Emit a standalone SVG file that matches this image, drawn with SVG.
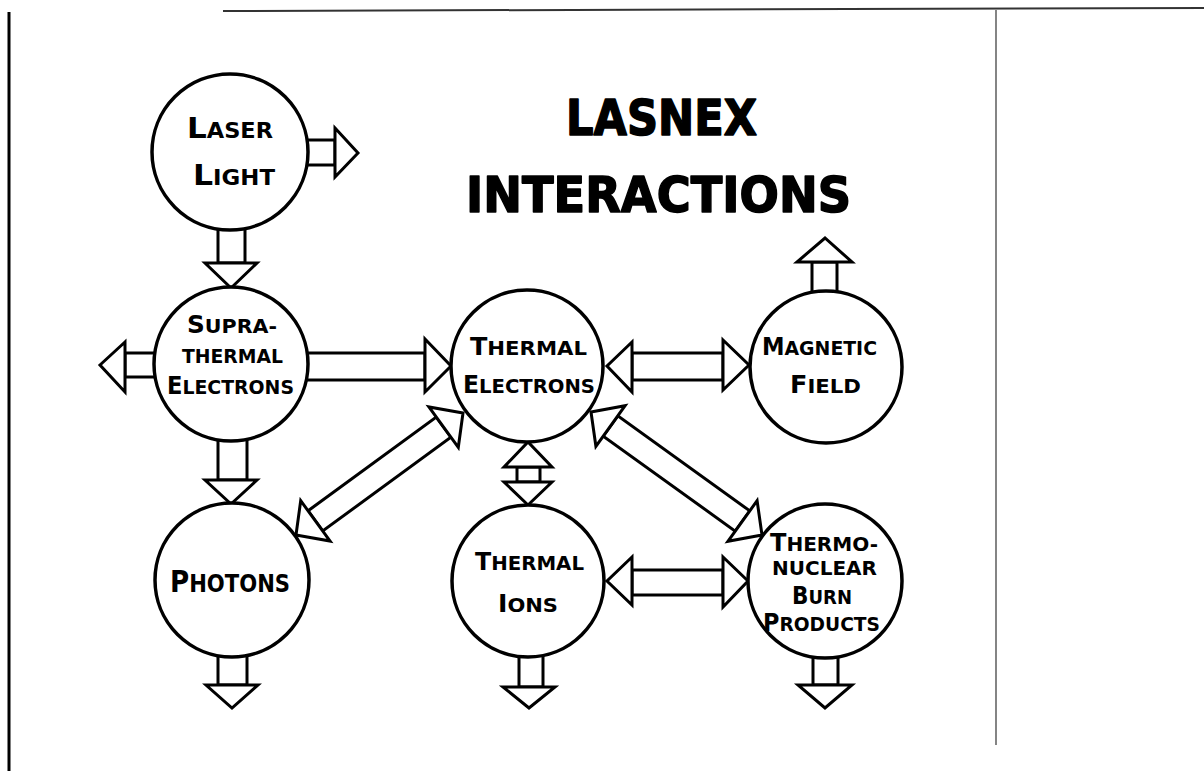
<svg xmlns="http://www.w3.org/2000/svg" width="1204" height="771" viewBox="0 0 1204 771">
<defs>
<style>
.bg{fill:#fff}
.node circle{fill:#fff;stroke:#000;stroke-width:3.5}
.sh{fill:#fff;stroke:#000;stroke-width:3;stroke-linejoin:miter}
.hd{fill:#fff;stroke:#000;stroke-width:3;stroke-linejoin:miter}
.lbl{font-family:"DejaVu Sans","Liberation Sans",sans-serif;font-weight:bold;fill:#000}
.s{font-size:20px}
.b{font-size:24px}
.title{font-family:"DejaVu Sans","Liberation Sans",sans-serif;font-weight:bold;font-size:50px;fill:#000;stroke:#000;stroke-width:1.6;stroke-linejoin:round}
</style>
</defs>
<rect class="bg" x="0" y="0" width="1204" height="771"/>
<g id="frame">
<line x1="9" y1="12" x2="9" y2="771" stroke="#000" stroke-width="3"/>
<line x1="223" y1="11" x2="1204" y2="8" stroke="#333" stroke-width="2"/>
<line x1="996" y1="10" x2="996" y2="745" stroke="#333" stroke-width="1.2"/>
</g>
<g id="title">
<text class="title" x="566" y="135" textLength="191" lengthAdjust="spacingAndGlyphs">LASNEX</text>
<text class="title" x="466" y="212" textLength="385" lengthAdjust="spacingAndGlyphs">INTERACTIONS</text>
</g>
<g id="connectors">
<rect class="sh" x="300" y="140" width="35" height="25"/>
<polygon class="hd" points="335,128 358,153 335,177"/>
<rect class="sh" x="218" y="222" width="27" height="41"/>
<polygon class="hd" points="205,263 257,263 231,288"/>
<rect class="sh" x="125" y="353" width="37" height="24"/>
<polygon class="hd" points="125,342 100,365 125,392"/>
<rect class="sh" x="300" y="353" width="125" height="27"/>
<polygon class="hd" points="425,339 451,366 425,392"/>
<rect class="sh" x="218" y="432" width="29" height="48"/>
<polygon class="hd" points="205,480 257,480 231,504"/>
<rect class="sh" x="218" y="650" width="29" height="35"/>
<polygon class="hd" points="206,685 258,685 232,708"/>
<rect class="sh" x="632" y="353" width="91" height="27"/>
<polygon class="hd" points="632,342 607,366 632,392"/>
<polygon class="hd" points="723,340 749,365 723,390"/>
<rect class="sh" x="517" y="467" width="23" height="15"/>
<polygon class="hd" points="504,467 528,442 552,467"/>
<polygon class="hd" points="504,482 552,482 528,505"/>
<rect class="sh" x="519" y="650" width="24" height="37"/>
<polygon class="hd" points="503,687 555,687 529,708"/>
<rect class="sh" x="632" y="570" width="91" height="25"/>
<polygon class="hd" points="632,557 607,581 632,605"/>
<polygon class="hd" points="723,557 748,581 723,607"/>
<rect class="sh" x="813" y="650" width="25" height="35"/>
<polygon class="hd" points="798,685 852,685 825,708"/>
<rect class="sh" x="812" y="262" width="25" height="36"/>
<polygon class="hd" points="797,262 852,262 825,238"/>
<polygon class="sh" points="308.1,510.8 436.3,417.0 450.9,437.2 322.7,531.0"/>
<polygon class="hd" points="330.1,541.1 300.7,500.7 296,535"/>
<polygon class="hd" points="458.3,447.3 428.9,406.9 463,413"/>
<polygon class="sh" points="603.2,436.1 617.8,415.9 749.8,510.9 735.2,531.1"/>
<polygon class="hd" points="595.9,446.3 625.1,405.7 591,412"/>
<polygon class="hd" points="727.9,541.3 757.1,500.7 762,535"/>
</g>
<g id="laser-light" class="node">
<circle cx="230" cy="152" r="78"/>
<text class="lbl" x="187" y="138" textLength="86" lengthAdjust="spacingAndGlyphs"><tspan style="font-size:29px">L</tspan><tspan style="font-size:21px">ASER</tspan></text>
<text class="lbl" x="193" y="185" textLength="82" lengthAdjust="spacingAndGlyphs"><tspan style="font-size:29px">L</tspan><tspan style="font-size:21px">IGHT</tspan></text>
</g>
<g id="suprathermal-electrons" class="node">
<circle cx="231" cy="364" r="77"/>
<text class="lbl" x="187" y="333" textLength="90" lengthAdjust="spacingAndGlyphs"><tspan class="b">S</tspan><tspan class="s">UPRA-</tspan></text>
<text class="lbl s" x="182" y="363" textLength="101" lengthAdjust="spacingAndGlyphs">THERMAL</text>
<text class="lbl" x="167" y="394" textLength="127" lengthAdjust="spacingAndGlyphs"><tspan class="b">E</tspan><tspan class="s">LECTRONS</tspan></text>
</g>
<g id="thermal-electrons" class="node">
<circle cx="527" cy="366" r="76"/>
<text class="lbl" x="470" y="355" textLength="117" lengthAdjust="spacingAndGlyphs"><tspan class="b">T</tspan><tspan class="s">HERMAL</tspan></text>
<text class="lbl" x="463" y="393" textLength="132" lengthAdjust="spacingAndGlyphs"><tspan class="b">E</tspan><tspan class="s">LECTRONS</tspan></text>
</g>
<g id="magnetic-field" class="node">
<circle cx="826" cy="367" r="76"/>
<text class="lbl" x="762" y="355" textLength="115" lengthAdjust="spacingAndGlyphs"><tspan class="b">M</tspan><tspan class="s">AGNETIC</tspan></text>
<text class="lbl" x="790" y="393" textLength="71" lengthAdjust="spacingAndGlyphs"><tspan class="b">F</tspan><tspan class="s">IELD</tspan></text>
</g>
<g id="photons" class="node">
<circle cx="232" cy="580" r="77"/>
<text class="lbl" transform="translate(170,592) scale(0.845,1)" x="0" y="0"><tspan style="font-size:31px">P</tspan><tspan style="font-size:25px">HOTONS</tspan></text>
</g>
<g id="thermal-ions" class="node">
<circle cx="528" cy="581" r="76"/>
<text class="lbl" x="475" y="570" textLength="109" lengthAdjust="spacingAndGlyphs"><tspan class="b">T</tspan><tspan class="s">HERMAL</tspan></text>
<text class="lbl" x="498" y="612" textLength="60" lengthAdjust="spacingAndGlyphs"><tspan class="b">I</tspan><tspan class="s">ONS</tspan></text>
</g>
<g id="thermonuclear-burn-products" class="node">
<circle cx="825" cy="581" r="77"/>
<text class="lbl" x="770" y="551" textLength="108" lengthAdjust="spacingAndGlyphs"><tspan class="b">T</tspan><tspan class="s">HERMO-</tspan></text>
<text class="lbl s" x="772" y="575" textLength="105" lengthAdjust="spacingAndGlyphs">NUCLEAR</text>
<text class="lbl" x="792" y="604" textLength="60" lengthAdjust="spacingAndGlyphs"><tspan class="b">B</tspan><tspan class="s">URN</tspan></text>
<text class="lbl" x="763" y="631" textLength="117" lengthAdjust="spacingAndGlyphs"><tspan class="b">P</tspan><tspan class="s">RODUCTS</tspan></text>
</g>
</svg>
